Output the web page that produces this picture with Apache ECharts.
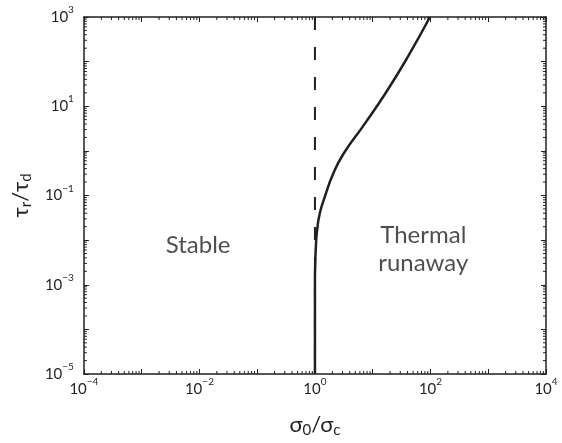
<!DOCTYPE html>
<html>
<head>
<meta charset="utf-8">
<script src="https://cdn.jsdelivr.net/npm/echarts@6/dist/echarts.min.js"></script>
<style>
html,body{margin:0;padding:0;background:#fff;}
#chart{width:562px;height:443px;}
</style>
</head>
<body>
<div id="chart"></div>
<script>
// Boundary curve (sigma0/sigmac, tau_r/tau_d)
const curveX = [1, 1, 1.012, 1.04, 1.094, 1.217, 1.48, 2.05, 3.1, 7.21, 17.1, 39.1, 98];
const curveY = [1e-5, 1.24e-3, 2.89e-3, 7.7e-3, 0.0177, 0.0406, 0.0933, 0.298, 0.85, 3.98, 20.6, 118, 1000];
// Dashed vertical line at sigma0/sigmac = 1 (drawn top to bottom)
const dashX = [1, 1];
const dashY = [1e3, 1e-5];
// Axis ranges
const xMin = 1e-4, xMax = 1e4;
const yMin = 1e-5, yMax = 1e3;
// Region labels
const regionLabels = [
  { name: 'Stable', x: 0.0095, y: 0.0078 },
  { name: 'Thermal\nrunaway', x: 75, y: 0.0063 }
];

const FONT = 'Lato';
const INK = '#231f20';

function minorValues(lo, hi) {
  const out = [];
  for (let e = Math.round(Math.log10(lo)); e < Math.round(Math.log10(hi)); e++) {
    for (let k = 2; k <= 9; k++) out.push(k * Math.pow(10, e));
  }
  return out;
}

function makeExpLabel(minV) {
  const e0 = Math.round(Math.log10(minV));
  return function (v) {
    const e = Math.round(Math.log10(v));
    if ((e - e0) % 2 !== 0) return '';
    const s = e < 0 ? '\u2212' + Math.abs(e) : String(e);
    return '10{sup|' + s + '}';
  };
}

const labelRich = {
  sup: { fontFamily: FONT, fontSize: 10, lineHeight: 10, verticalAlign: 'top', color: INK }
};

const axisCommon = {
  type: 'log', logBase: 10,
  axisLine: { show: true, onZero: false, lineStyle: { color: INK, width: 1.5 } },
  axisTick: { show: true, inside: true, length: 5, lineStyle: { color: INK, width: 1 } },
  splitLine: { show: false },
  minorTick: { show: false }
};

const chart = echarts.init(document.getElementById('chart'), null, { renderer: 'canvas' });

const xMinor = minorValues(xMin, xMax);
const yMinor = minorValues(yMin, yMax);

function minorTickSeries(vals, isX) {
  return {
    type: 'custom',
    xAxisIndex: 0, yAxisIndex: 0,
    silent: true, clip: false, z: 5,
    data: vals.map(v => isX ? [v, yMin] : [xMin, v]),
    renderItem: function (params, api) {
      const v = api.value(isX ? 0 : 1);
      const L = 3;
      let a, b;
      if (isX) {
        a = api.coord([v, yMin]);
        b = api.coord([v, yMax]);
        return { type: 'group', children: [
          { type: 'line', shape: { x1: a[0], y1: a[1], x2: a[0], y2: a[1] - L }, style: { stroke: INK, lineWidth: 1 } },
          { type: 'line', shape: { x1: b[0], y1: b[1], x2: b[0], y2: b[1] + L }, style: { stroke: INK, lineWidth: 1 } }
        ]};
      } else {
        a = api.coord([xMin, v]);
        b = api.coord([xMax, v]);
        return { type: 'group', children: [
          { type: 'line', shape: { x1: a[0], y1: a[1], x2: a[0] + L, y2: a[1] }, style: { stroke: INK, lineWidth: 1 } },
          { type: 'line', shape: { x1: b[0], y1: b[1], x2: b[0] - L, y2: b[1] }, style: { stroke: INK, lineWidth: 1 } }
        ]};
      }
    }
  };
}

const nameRich = { sub: { fontFamily: FONT, fontSize: 15, lineHeight: 14, verticalAlign: 'bottom', color: INK } };

const option = {
  animation: false,
  backgroundColor: '#fff',
  grid: { left: 77, right: 16, top: 17, bottom: 56, containLabel: false },
  xAxis: [
    Object.assign({}, axisCommon, {
      position: 'bottom', min: xMin, max: xMax, interval: 1, splitNumber: 8,
      name: '\u03c3{sub|0}/\u03c3{sub|c}', nameLocation: 'middle', nameGap: 38,
      nameTextStyle: { fontFamily: FONT, fontSize: 22, color: INK, lineHeight: 26, rich: nameRich },
      axisLabel: { show: true, margin: 3, formatter: makeExpLabel(xMin),
        fontFamily: FONT, fontSize: 15, lineHeight: 24, color: INK, rich: labelRich }
    }),
    Object.assign({}, axisCommon, {
      position: 'top', min: xMin, max: xMax, interval: 1, splitNumber: 8,
      axisLabel: { show: false }
    })
  ],
  yAxis: [
    Object.assign({}, axisCommon, {
      position: 'left', min: yMin, max: yMax, interval: 1, splitNumber: 8,
      name: '\u03c4{sub|r}/\u03c4{sub|d}', nameLocation: 'middle', nameGap: 43,
      nameTextStyle: { fontFamily: FONT, fontSize: 22, color: INK, lineHeight: 26, rich: nameRich },
      axisLabel: { show: true, margin: 10, formatter: makeExpLabel(yMin),
        fontFamily: FONT, fontSize: 15, lineHeight: 24, color: INK, rich: labelRich }
    }),
    Object.assign({}, axisCommon, {
      position: 'right', min: yMin, max: yMax, interval: 1, splitNumber: 8,
      axisLabel: { show: false }
    })
  ],
  series: [
    minorTickSeries(xMinor, true),
    minorTickSeries(yMinor, false),
    {
      type: 'line', xAxisIndex: 0, yAxisIndex: 0,
      data: dashX.map((x, i) => [x, dashY[i]]),
      showSymbol: false, symbol: 'none', silent: true,
      lineStyle: { color: INK, width: 2, type: [13, 17] }, z: 3
    },
    {
      type: 'line', xAxisIndex: 0, yAxisIndex: 0,
      data: curveX.map((x, i) => [x, curveY[i]]),
      showSymbol: false, symbol: 'none', smooth: 0.5, silent: true,
      lineStyle: { color: INK, width: 2.5 }, z: 4
    },
    {
      type: 'scatter', xAxisIndex: 0, yAxisIndex: 0,
      symbolSize: 0, silent: true,
      data: regionLabels.map(d => ({ value: [d.x, d.y], name: d.name })),
      label: { show: true, position: 'inside', formatter: p => p.name,
        fontFamily: FONT, fontSize: 24, lineHeight: 28, color: INK, align: 'center', verticalAlign: 'middle' }
    }
  ]
};

chart.setOption(option);
</script>
</body>
</html>
